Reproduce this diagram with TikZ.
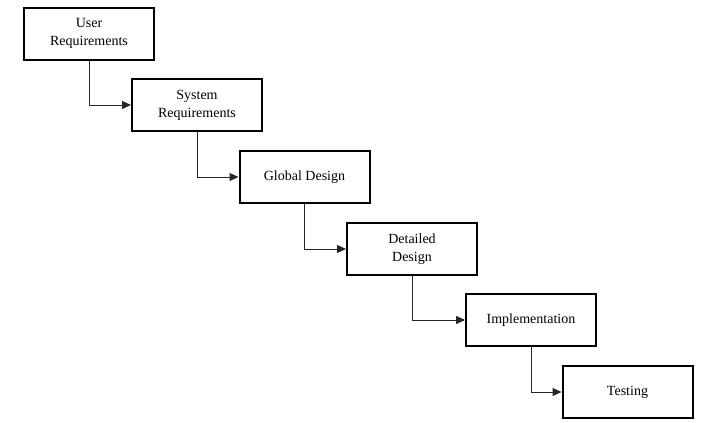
\documentclass[tikz,border=0pt]{standalone}
\usepackage{fontspec}
\setmainfont{Liberation Serif}
\usetikzlibrary{arrows.meta}
\begin{document}
\begin{tikzpicture}[x=1pt,y=-1pt,
  stage/.style={draw=black, line width=2pt, fill=white, minimum width=130pt, minimum height=52pt, inner sep=0pt, align=center, font=\fontsize{14}{18}\selectfont},
  link/.style={draw=black!85, line width=1pt, -{Triangle[length=9pt,width=8pt]}}]
\useasboundingbox (0,0) rectangle (710,423);
\node[stage] (ur) at (89,33.5) {User\\Requirements};
\node[stage] (sr) at (197,105) {System\\Requirements};
\node[stage] (gd) at (304.5,177) {Global Design};
\node[stage] (dd) at (412,249) {Detailed\\Design};
\node[stage] (im) at (531,320) {Implementation};
\node[stage] (te) at (627.5,392) {Testing};
\draw[link] (ur.south) |- (sr.west);
\draw[link] (sr.south) |- (gd.west);
\draw[link] (gd.south) |- (dd.west);
\draw[link] (dd.south) |- (im.west);
\draw[link] (im.south) |- (te.west);
\end{tikzpicture}
\end{document}
